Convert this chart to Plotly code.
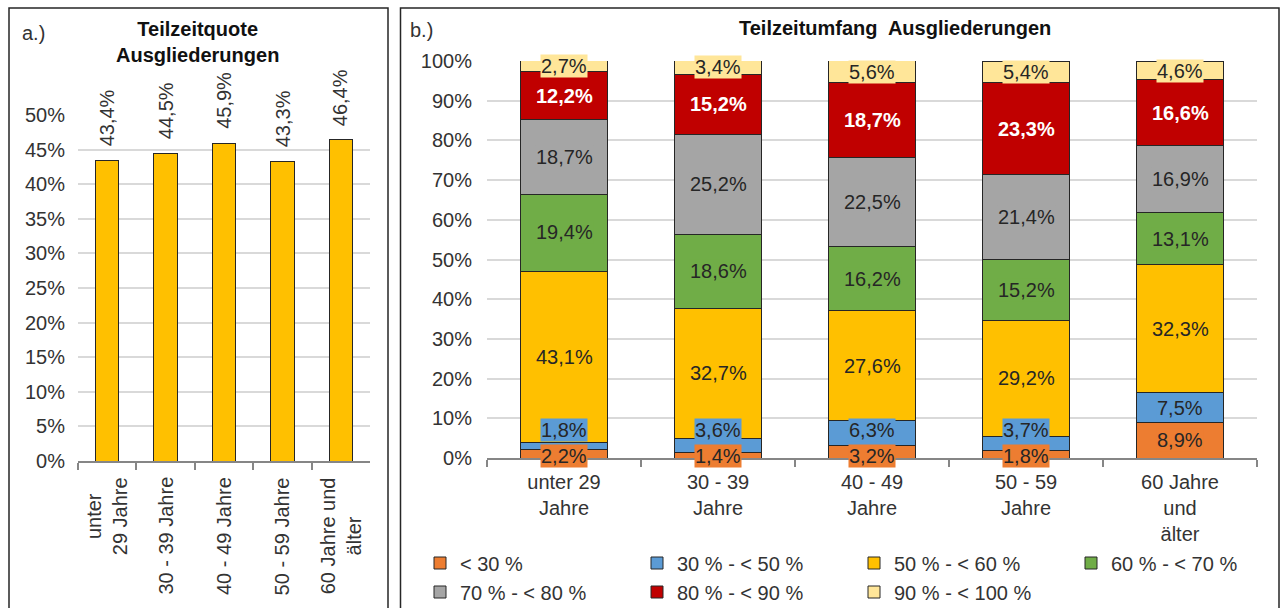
import plotly.graph_objects as go

W, H = 1281, 608
FONT = "Liberation Sans, Arial, sans-serif"
TXT = "#333333"
FS = 20

# ---------------- data ----------------
cats_left = ["unter<br>29 Jahre", "30 - 39 Jahre", "40 - 49 Jahre", "50 - 59 Jahre", "60 Jahre und<br>älter"]
quote = [43.4, 44.5, 45.9, 43.3, 46.4]

cats_right = ["unter 29<br>Jahre", "30 - 39<br>Jahre", "40 - 49<br>Jahre", "50 - 59<br>Jahre", "60 Jahre<br>und<br>älter"]
series_names = ["< 30 %", "30 % - < 50 %", "50 % - < 60 %", "60 % - < 70 %",
                "70 % - < 80 %", "80 % - < 90 %", "90 % - < 100 %"]
s_lt30 = [2.2, 1.4, 3.2, 1.8, 8.9]
s_30_50 = [1.8, 3.6, 6.3, 3.7, 7.5]
s_50_60 = [43.1, 32.7, 27.6, 29.2, 32.3]
s_60_70 = [19.4, 18.6, 16.2, 15.2, 13.1]
s_70_80 = [18.7, 25.2, 22.5, 21.4, 16.9]
s_80_90 = [12.2, 15.2, 18.7, 23.3, 16.6]
s_90_100 = [2.7, 3.4, 5.6, 5.4, 4.6]
series_vals = [s_lt30, s_30_50, s_50_60, s_60_70, s_70_80, s_80_90, s_90_100]
series_colors = ["#ED7D31", "#5B9BD5", "#FFC000", "#70AD47", "#A5A5A5", "#C00000", "#FFE699"]


def px(x):
    return x / W


def py(y):
    return 1 - y / H


def fmt(v):
    return f"{v:.1f}".replace(".", ",") + "%"


fig = go.Figure()

# left panel
fig.add_trace(go.Bar(
    x=cats_left, y=quote, xaxis="x", yaxis="y", width=0.4,
    marker=dict(color="#FFC000", line=dict(color="#262626", width=1)),
    showlegend=False, hoverinfo="skip"))

# right panel
for i, (name, vals, col) in enumerate(zip(series_names, series_vals, series_colors)):
    fig.add_trace(go.Bar(
        x=cats_right, y=vals, name=name, xaxis="x2", yaxis="y2", width=0.56,
        marker=dict(color=col, line=dict(color="#262626", width=1)),
        legend="legend" if i < 4 else "legend2", hoverinfo="skip"))

annotations = []
# left value labels
for c, v in zip(cats_left, quote):
    annotations.append(dict(x=c, y=v, xref="x", yref="y", text=fmt(v), showarrow=False,
                            textangle=-90, yanchor="bottom", xanchor="center", yshift=12,
                            bgcolor="white",
                            font=dict(size=FS, color=TXT, family=FONT)))
# left category labels
for c in cats_left:
    annotations.append(dict(x=c, y=0, xref="x", yref="y", text=c, showarrow=False,
                            textangle=-90, yanchor="top", xanchor="center", yshift=-14,
                            align="center",
                            font=dict(size=FS, color=TXT, family=FONT)))

# right segment labels
for j, c in enumerate(cats_right):
    base = 0.0
    crowded = s_lt30[j] < 5
    for i, vals in enumerate(series_vals):
        v = vals[j]
        mid = base + v / 2
        base += v
        ys = 0
        if crowded and i == 0:
            mid, ys = 0, 2
        elif crowded and i == 1:
            mid, ys = 0, 28
        red = series_colors[i] == "#C00000"
        annotations.append(dict(
            x=c, y=mid, xref="x2", yref="y2", yshift=ys, text=fmt(v), showarrow=False,
            xanchor="center", yanchor="middle",
            bgcolor=series_colors[i], borderpad=0,
            font=dict(size=FS, color="white" if red else "#262626", family=FONT,
                      weight="bold" if red else "normal")))

# titles
annotations += [
    dict(x=px(197), y=py(42), xref="paper", yref="paper", showarrow=False,
         xanchor="center", yanchor="middle",
         text="<b>Teilzeitquote<br>Ausgliederungen</b>", align="center",
         font=dict(size=FS, color="#111111", family=FONT)),
    dict(x=px(895), y=py(28), xref="paper", yref="paper", showarrow=False,
         xanchor="center", yanchor="middle",
         text="<b>Teilzeitumfang  Ausgliederungen</b>",
         font=dict(size=FS, color="#111111", family=FONT)),
    dict(x=px(20), y=py(33), xref="paper", yref="paper", showarrow=False,
         xanchor="left", yanchor="middle",
         text="a.)", font=dict(size=FS, color=TXT, family=FONT)),
    dict(x=px(408), y=py(30), xref="paper", yref="paper", showarrow=False,
         xanchor="left", yanchor="middle",
         text="b.)", font=dict(size=FS, color=TXT, family=FONT)),
]

shapes = [
    dict(type="rect", xref="paper", yref="paper", x0=px(9), x1=px(388), y0=-0.05, y1=py(8),
         line=dict(color="#262626", width=1.5), layer="above"),
    dict(type="rect", xref="paper", yref="paper", x0=px(400.5), x1=px(1279), y0=-0.05, y1=py(8),
         line=dict(color="#262626", width=1.5), layer="above"),
]

axis_common = dict(tickfont=dict(size=FS, color=TXT, family=FONT))

fig.update_layout(
    width=W, height=H, margin=dict(l=0, r=0, t=0, b=0, autoexpand=False),
    paper_bgcolor="white", plot_bgcolor="white",
    barmode="stack", font=dict(family=FONT, size=FS, color=TXT),
    xaxis=dict(domain=[px(78), px(370)], anchor="y", type="category",
               showticklabels=False, ticks="outside", tickson="boundaries", ticklen=7,
               tickwidth=2, tickcolor="#868686", showline=True, linecolor="#868686",
               linewidth=2, showgrid=False, automargin=False),
    yaxis=dict(domain=[py(461), py(115)], anchor="x", range=[0, 50], dtick=5,
               ticksuffix="%", showgrid=True, gridcolor="#d9d9d9", gridwidth=1.5,
               zeroline=False, showline=False, ticks="", ticklabelstandoff=12,
               automargin=False, **axis_common),
    xaxis2=dict(domain=[px(487), px(1257)], anchor="y2", type="category",
                ticks="outside", tickson="boundaries", ticklen=7, tickwidth=2,
                tickcolor="#868686", showline=True, linecolor="#868686", linewidth=2,
                showgrid=False, ticklabelstandoff=5, automargin=False, **axis_common),
    yaxis2=dict(domain=[py(458), py(61)], anchor="x2", range=[0, 100], dtick=10,
                ticksuffix="%", showgrid=True, gridcolor="#d9d9d9", gridwidth=1.5,
                zeroline=False, showline=False, ticks="", ticklabelstandoff=14,
                automargin=False, **axis_common),
    legend=dict(orientation="h", x=px(420), xanchor="left", y=py(563), yanchor="middle",
                entrywidth=172, entrywidthmode="pixels", bgcolor="rgba(0,0,0,0)",
                font=dict(size=FS, color=TXT, family=FONT), traceorder="normal"),
    legend2=dict(orientation="h", x=px(420), xanchor="left", y=py(592), yanchor="middle",
                 entrywidth=172, entrywidthmode="pixels", bgcolor="rgba(0,0,0,0)",
                 font=dict(size=FS, color=TXT, family=FONT), traceorder="normal"),
    annotations=annotations, shapes=shapes,
)

fig.write_html(
    "out.html",
    config={"displayModeBar": False},
    post_script="document.body.style.margin='0';document.body.style.overflow='hidden';",
)
